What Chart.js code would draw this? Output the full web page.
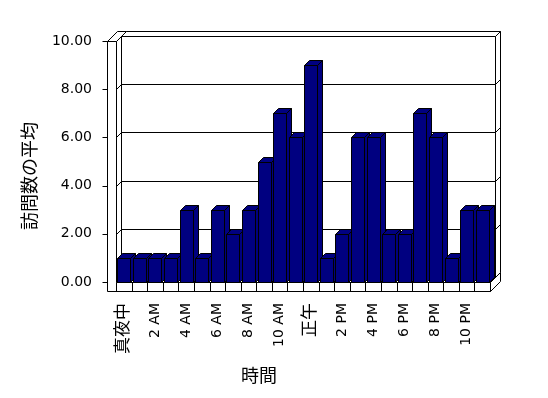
<!DOCTYPE html>
<html>
<head>
<meta charset="utf-8">
<script src="https://cdn.jsdelivr.net/npm/chart.js@4"></script>
<style>html,body{margin:0;background:#fff}</style>
</head>
<body>
<canvas id="chart" width="548" height="398"></canvas>
<script>
const hours = [
    '真夜中', '1 AM', '2 AM', '3 AM', '4 AM', '5 AM', '6 AM', '7 AM', '8 AM', '9 AM', '10 AM', '11 AM',
    '正午', '1 PM', '2 PM', '3 PM', '4 PM', '5 PM', '6 PM', '7 PM', '8 PM', '9 PM', '10 PM', '11 PM'
];
const visits = [
    1, 1, 1, 1, 3, 1, 3, 2, 3, 5, 7, 6,
    9, 1, 2, 6, 6, 2, 2, 7, 6, 1, 3, 3
];
const yTicks = [0, 2, 4, 6, 8, 10];
const yTitle = '訪問数の平均';
const xTitle = '時間';

const FONT = '"DejaVu Sans", "Noto Sans CJK JP", sans-serif';
const JP = '"Noto Sans CJK JP", sans-serif';
const DEPTH = 5;   // offset to the back wall
const WALL = 9;    // thickness of left wall / floor
const NAVY = '#000080';

function px(v) { return Math.round(v) + 0.5; }

function poly(ctx, pts, fill) {
    ctx.beginPath();
    ctx.moveTo(px(pts[0][0]), px(pts[0][1]));
    for (let i = 1; i < pts.length; i++) ctx.lineTo(px(pts[i][0]), px(pts[i][1]));
    ctx.closePath();
    ctx.fillStyle = fill;
    ctx.fill();
    ctx.stroke();
}

function line(ctx, pts) {
    ctx.beginPath();
    ctx.moveTo(px(pts[0][0]), px(pts[0][1]));
    for (let i = 1; i < pts.length; i++) ctx.lineTo(px(pts[i][0]), px(pts[i][1]));
    ctx.stroke();
}

const box3d = {
    id: 'box3d',
    beforeDatasetsDraw(chart) {
        const ctx = chart.ctx;
        const { left: L, right: R, top: T, bottom: B } = chart.chartArea;
        const d = DEPTH, w = WALL;
        ctx.save();
        ctx.strokeStyle = '#000';
        ctx.lineWidth = 1;
        // back wall
        poly(ctx, [[L + d, T - d], [R + d, T - d], [R + 2 * d, T - 2 * d], [L + 2 * d, T - 2 * d]], '#fff');
        poly(ctx, [[R + d, T - d], [R + 2 * d, T - 2 * d], [R + 2 * d, B - 2 * d], [R + d, B - d]], '#fff');
        poly(ctx, [[L + d, T - d], [R + d, T - d], [R + d, B - d], [L + d, B - d]], '#fff');
        // left wall
        poly(ctx, [[L, T], [L + d, T - d], [L + d, B - d], [L, B]], '#fff');
        poly(ctx, [[L - w, T], [L, T], [L + 2 * d, T - 2 * d], [L - w + 2 * d, T - 2 * d]], '#fff');
        // floor
        poly(ctx, [[L, B], [R, B], [R + d, B - d], [L + d, B - d]], '#fff');
        poly(ctx, [[R, B], [R + 2 * d, B - 2 * d], [R + 2 * d, B - 2 * d + w], [R, B + w]], '#fff');
        poly(ctx, [[L - w, T], [L, T], [L, B], [R, B], [R, B + w], [L - w, B + w]], '#fff');
        // grid lines and ticks
        const ys = chart.scales.y;
        yTicks.forEach(v => {
            const y = ys.getPixelForValue(v);
            if (v > 0 && v < 10) {
                line(ctx, [[L, y], [L + d, y - d], [R + d, y - d], [R + 2 * d, y - 2 * d]]);
            }
            line(ctx, [[L - w - 5, y], [L - w, y]]);
        });
        // category ticks on floor edge
        const n = hours.length;
        for (let i = 0; i <= n; i++) {
            const x = L + i * (R - L) / n;
            line(ctx, [[x, B], [x, B + w]]);
        }
        ctx.restore();
    },
    afterDatasetsDraw(chart) {
        const ctx = chart.ctx;
        const d = DEPTH;
        ctx.save();
        ctx.strokeStyle = '#000';
        ctx.lineWidth = 1;
        chart.getDatasetMeta(0).data.forEach(el => {
            const x0 = el.x - el.width / 2, x1 = el.x + el.width / 2;
            const yt = el.y, yb = el.base;
            poly(ctx, [[x1, yb], [x1 + d, yb - d], [x1 + d, yt - d], [x1, yt]], NAVY);
            poly(ctx, [[x0, yt], [x1, yt], [x1 + d, yt - d], [x0 + d, yt - d]], NAVY);
            poly(ctx, [[x0, yt], [x1, yt], [x1, yb], [x0, yb]], NAVY);
        });
        ctx.restore();
    },
    afterDraw(chart) {
        const ctx = chart.ctx;
        ctx.save();
        ctx.fillStyle = '#000';
        ctx.font = '18px ' + JP;
        ctx.textAlign = 'center';
        ctx.textBaseline = 'middle';
        ctx.fillText(xTitle, 259, 375);
        ctx.translate(29, 176);
        ctx.rotate(-Math.PI / 2);
        ctx.fillText(yTitle, 0, 0);
        ctx.restore();
    }
};

const ctx = document.getElementById('chart').getContext('2d');
const visitsChart = new Chart(ctx, {
    type: 'bar',
    data: {
        labels: hours,
        datasets: [{
            data: visits,
            backgroundColor: 'rgba(0,0,0,0)',
            borderWidth: 0,
            categoryPercentage: 1,
            barPercentage: 0.83
        }]
    },
    options: {
        responsive: false,
        animation: false,
        devicePixelRatio: 1,
        layout: { padding: { top: 41, right: 58, left: 0, bottom: 0 } },
        plugins: { legend: { display: false }, tooltip: { enabled: false } },
        scales: {
            x: {
                grid: { display: false, drawTicks: false },
                border: { display: false },
                ticks: {
                    autoSkip: false,
                    maxRotation: 90,
                    minRotation: 90,
                    padding: 21,
                    color: '#000',
                    font: c => ({ family: FONT, size: /[^\x00-\x7f]/.test(hours[c.index] || '') ? 17 : 14 }),
                    callback: (v, i) => (i % 2 === 0 ? hours[i] : '')
                },
                afterFit: s => { s.height = 116; }
            },
            y: {
                min: 0,
                max: 10,
                afterBuildTicks: s => { s.ticks = yTicks.map(v => ({ value: v })); },
                grid: { display: false, drawTicks: false },
                border: { display: false },
                ticks: {
                    padding: 24,
                    color: '#000',
                    font: { family: FONT, size: 14 },
                    callback: v => v.toFixed(2)
                },
                afterFit: s => { s.width = 116; }
            }
        }
    },
    plugins: [box3d]
});
</script>
</body>
</html>
